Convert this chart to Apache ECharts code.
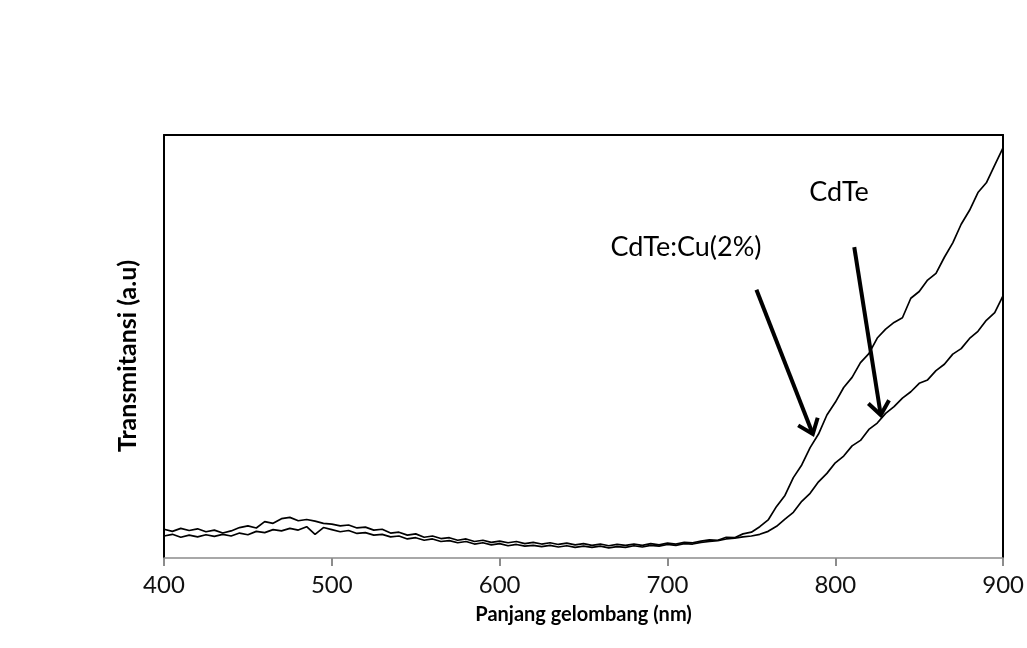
<!DOCTYPE html>
<html lang="id">
<head>
<meta charset="UTF-8">
<title>Transmitansi CdTe</title>
<script src="https://cdn.jsdelivr.net/npm/echarts@6/dist/echarts.min.js"></script>
</head>
<body style="margin:0;background:#fff;">
<div id="main" style="width:1027px;height:648px;"></div>
<script>
// sumbu x: panjang gelombang (nm), langkah 5 nm
const wlStart = 400;
const wlStep = 5;
const xTicks = [400, 500, 600, 700, 800, 900];

// CdTe:Cu(2%) (kurva atas di ujung)
const cuVals = [
  6.8, 6.3, 7.0, 6.5, 6.9, 6.2, 6.6, 5.9, 6.4, 7.2, 7.6, 7.1, 8.6, 8.2, 9.3, 9.6, 8.8, 9.1, 8.7, 8.2,
  8.0, 7.6, 7.8, 7.1, 7.3, 6.6, 6.8, 5.9, 6.1, 5.4, 5.7, 4.9, 5.2, 4.6, 4.8, 4.2, 4.5, 3.9, 4.2, 3.7,
  4.0, 3.6, 3.9, 3.4, 3.7, 3.3, 3.6, 3.2, 3.5, 3.1, 3.4, 3.0, 3.3, 2.9, 3.2, 3.0, 3.3, 3.0, 3.4, 3.1,
  3.5, 3.3, 3.7, 3.6, 4.0, 4.3, 4.2, 4.9, 4.8, 5.7, 6.1, 7.4, 9.0, 12.2, 14.8, 19.0, 22.0, 26.1, 29.3, 33.8,
  36.8, 40.3, 42.7, 46.2, 48.3, 52.0, 54.1, 55.7, 56.8, 61.4, 63.0, 65.7, 67.3, 71.1, 74.5, 78.9, 82.2, 86.4, 88.7, 92.9,
  97.0
];

// CdTe
const cdVals = [
  5.2, 5.6, 4.9, 5.4, 5.0, 5.5, 5.1, 5.6, 5.2, 5.9, 5.5, 6.3, 6.0, 6.7, 6.4, 7.0, 6.6, 7.4, 5.6, 7.2,
  6.7, 6.2, 6.5, 5.8, 6.0, 5.4, 5.6, 5.0, 5.2, 4.5, 4.8, 4.2, 4.5, 3.9, 4.1, 3.6, 3.9, 3.3, 3.6, 3.1,
  3.4, 2.9, 3.2, 2.8, 3.0, 2.7, 3.0, 2.6, 2.9, 2.5, 2.8, 2.5, 2.8, 2.4, 2.7, 2.5, 2.9, 2.6, 3.0, 2.8,
  3.2, 3.0, 3.4, 3.3, 3.7, 3.9, 4.1, 4.5, 4.7, 5.0, 5.2, 5.6, 6.3, 7.5, 9.2, 10.8, 13.4, 15.3, 18.0, 20.0,
  22.5, 24.1, 26.5, 27.8, 30.4, 31.9, 34.2, 35.8, 37.8, 39.3, 41.3, 42.1, 44.3, 45.8, 48.2, 49.5, 51.9, 53.6, 56.2, 58.0,
  62.0
];

// panah anotasi: [awal, ujung] dalam koordinat data
const arrowCu = [[753.0, 63.4], [786.6, 29.3]];
const arrowCd = [[811.3, 73.5], [827.1, 33.8]];

function pairs(vals) {
  return vals.map((v, i) => [wlStart + i * wlStep, v]);
}

const font = 'Lato, "Open Sans", sans-serif';
const chart = echarts.init(document.getElementById('main'));

const option = {
  backgroundColor: '#fff',
  animation: false,
  grid: { left: 164, right: 23, top: 135, bottom: 90 },
  xAxis: [
    {
      type: 'value', min: 400, max: 900, interval: 100,
      name: 'Panjang gelombang (nm)', nameLocation: 'middle', nameGap: 47,
      nameTextStyle: { fontFamily: font, fontSize: 20, fontWeight: 'bold', color: '#000' },
      axisLine: { show: true, onZero: false, lineStyle: { color: '#8c8c8c', width: 1.5 } },
      axisTick: { show: true, inside: false, length: 8, lineStyle: { color: '#8c8c8c', width: 2 } },
      axisLabel: { fontFamily: font, fontSize: 24, color: '#111', margin: 15,
        formatter: v => xTicks.indexOf(v) >= 0 ? String(v) : '' },
      splitLine: { show: false }
    },
    {
      type: 'value', min: 400, max: 900, position: 'top',
      axisLine: { show: true, onZero: false, lineStyle: { color: '#000', width: 2 } },
      axisTick: { show: false }, axisLabel: { show: false }, splitLine: { show: false }
    }
  ],
  yAxis: [
    {
      type: 'value', min: 0, max: 100,
      axisLine: { show: true, onZero: false, lineStyle: { color: '#000', width: 2 } },
      axisTick: { show: false }, axisLabel: { show: false }, splitLine: { show: false }
    },
    {
      type: 'value', min: 0, max: 100, position: 'right',
      axisLine: { show: true, onZero: false, lineStyle: { color: '#000', width: 2 } },
      axisTick: { show: false }, axisLabel: { show: false }, splitLine: { show: false }
    }
  ],
  series: [
    {
      name: 'CdTe:Cu(2%)', type: 'line', data: pairs(cuVals),
      showSymbol: false, lineStyle: { color: '#000', width: 1.7 }
    },
    {
      name: 'CdTe', type: 'line', data: pairs(cdVals),
      showSymbol: false, lineStyle: { color: '#000', width: 1.7 }
    }
  ]
};
chart.setOption(option);

// gambar panah dan teks anotasi
function arrowGraphics(arrow) {
  const p0 = chart.convertToPixel({ xAxisIndex: 0, yAxisIndex: 0 }, arrow[0]);
  const p1 = chart.convertToPixel({ xAxisIndex: 0, yAxisIndex: 0 }, arrow[1]);
  const dx = p0[0] - p1[0], dy = p0[1] - p1[1];
  const len = Math.sqrt(dx * dx + dy * dy);
  const ux = dx / len, uy = dy / len;
  const a = 38 * Math.PI / 180, h = 17;
  const w1 = [p1[0] + h * (ux * Math.cos(a) - uy * Math.sin(a)), p1[1] + h * (ux * Math.sin(a) + uy * Math.cos(a))];
  const w2 = [p1[0] + h * (ux * Math.cos(-a) - uy * Math.sin(-a)), p1[1] + h * (ux * Math.sin(-a) + uy * Math.cos(-a))];
  const st = { stroke: '#000', lineWidth: 4, fill: null };
  return [
    { type: 'polyline', shape: { points: [p0, p1] }, style: st, z: 10 },
    { type: 'polyline', shape: { points: [w1, p1, w2] }, style: Object.assign({ lineJoin: 'miter' }, st), z: 10 }
  ];
}

chart.setOption({
  graphic: [
    ...arrowGraphics(arrowCu),
    ...arrowGraphics(arrowCd),
    { type: 'text', x: 686, y: 247, z: 10,
      style: { text: 'CdTe:Cu(2%)', font: '27px ' + font, fill: '#000', align: 'center', verticalAlign: 'middle' } },
    { type: 'text', x: 839, y: 192, z: 10,
      style: { text: 'CdTe', font: '27px ' + font, fill: '#000', align: 'center', verticalAlign: 'middle' } },
    { type: 'text', x: 128, y: 356, rotation: Math.PI / 2, z: 10,
      style: { text: 'Transmitansi (a.u)', font: 'bold 25px ' + font, fill: '#000', align: 'center', verticalAlign: 'middle' } }
  ]
});
</script>
</body>
</html>
